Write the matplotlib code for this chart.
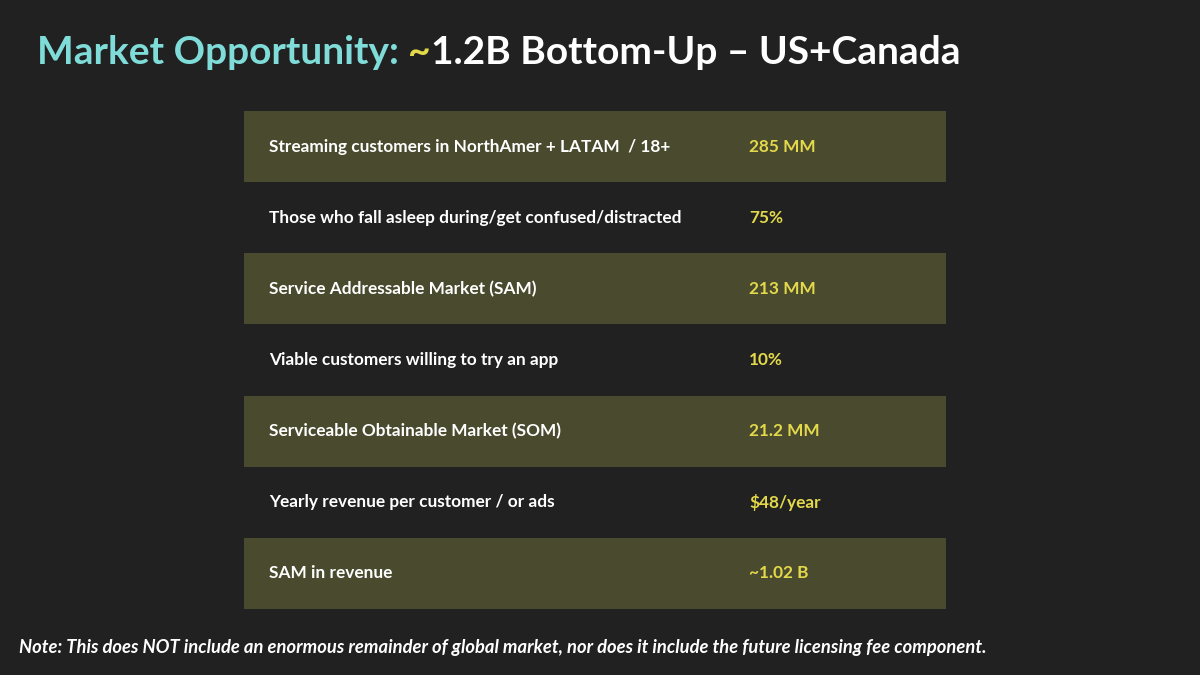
import matplotlib.pyplot as plt
from matplotlib.patches import Rectangle

labels = [
    "Streaming customers in NorthAmer + LATAM  / 18+",
    "Those who fall asleep during/get confused/distracted",
    "Service Addressable Market (SAM)",
    "Viable customers willing to try an app",
    "Serviceable Obtainable Market (SOM)",
    "Yearly revenue per customer / or ads",
    "SAM in revenue",
]
values = ["285 MM", "75%", "213 MM", "10%", "21.2 MM", "$48/year", "~1.02 B"]

bg = "#212121"
band = "#4a4a2e"
yellow = "#e3d94a"
cyan = "#7fdcd8"

plt.rcParams['font.family'] = ['Lato', 'DejaVu Sans']

fig = plt.figure(figsize=(12, 6.75), dpi=100, facecolor=bg)
ax = fig.add_axes([0, 0, 1, 1])
ax.set_xlim(0, 1200)
ax.set_ylim(675, 0)
ax.axis("off")

# title in three coloured pieces, placed one after another
x = 37
for part, col in [("Market Opportunity: ", cyan), ("~", yellow),
                  ("1.2B Bottom-Up \u2013 US+Canada", "white")]:
    t = ax.text(x, 52, part, color=col, fontsize=28, fontweight="bold", va="center")
    fig.canvas.draw()
    x = ax.transData.inverted().transform((t.get_window_extent().x1, 0))[0]

top, rh = 111, 71.14
left, right = 244, 946
for i, (lab, val) in enumerate(zip(labels, values)):
    y0 = top + i * rh
    if i % 2 == 0:
        ax.add_patch(Rectangle((left, y0), right - left, rh, color=band, lw=0))
    yc = y0 + rh / 2
    ax.text(269, yc, lab, color="white", fontsize=12.4, fontweight="bold", va="center")
    ax.text(749, yc, val, color=yellow, fontsize=12.4, fontweight="bold", va="center")

ax.text(19, 647, "Note: This does NOT include an enormous remainder of global market, nor does it include the future licensing fee component.",
        color="white", fontsize=13.2, fontweight="bold", style="italic", va="center")

fig.savefig("out.png", dpi=100, facecolor=bg)
